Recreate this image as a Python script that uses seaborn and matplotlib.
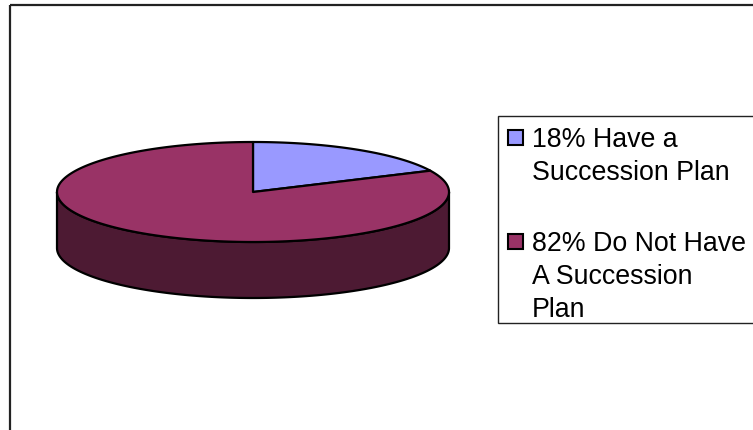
import numpy as np
import matplotlib
matplotlib.use('Agg')
import matplotlib.pyplot as plt
import matplotlib.colors as mcolors
import seaborn as sns
from matplotlib.patches import Polygon, Rectangle

# 数据
labels = ['18% Have a\nSuccession Plan', '82% Do Not Have\nA Succession\nPlan']
values = [18, 82]
colors = ['#9999FF', '#993366']

sns.set_style('white')
plt.rcParams['font.family'] = ['Liberation Sans', 'DejaVu Sans']

fig = plt.figure(figsize=(7.53, 4.31), dpi=100)
ax = fig.add_axes([0, 0, 1, 1])
ax.set_xlim(0, 753)
ax.set_ylim(431, 0)
ax.axis('off')

# 外框
ax.add_patch(Rectangle((10, 6), 800, 500, fill=False, edgecolor='#222222', lw=1.6))

# 饼图的位置与大小 (像素)
cx, cy, rx, ry, depth = 253, 193, 196, 50, 56


def arc(t1, t2, dy=0):
    t = np.radians(np.linspace(t1, t2, 300))
    return np.column_stack([cx + rx * np.cos(t), cy - ry * np.sin(t) + dy])


def darker(c, f=0.5):
    r, g, b = mcolors.to_rgb(c)
    return (r * f, g * f, b * f)


frac = np.array(values) / sum(values)
ends = 90 - 360 * np.cumsum(frac)
starts = np.r_[90, ends[:-1]]

# 侧面 (只画前半部分)
for s, e, c in zip(starts, ends, colors):
    for shift in (0, -360, 360):
        lo, hi = max(e + shift, -180), min(s + shift, 0)
        if lo < hi:
            pts = np.vstack([arc(lo, hi), arc(hi, lo, depth)])
            ax.add_patch(Polygon(pts, closed=True, facecolor=darker(c),
                                 edgecolor='black', lw=1.6, zorder=1))

# 顶面
for s, e, c in zip(starts, ends, colors):
    pts = np.vstack([[cx, cy], arc(s, e)])
    ax.add_patch(Polygon(pts, closed=True, facecolor=c,
                         edgecolor='black', lw=1.6, zorder=2, joinstyle='round'))

# 图例
ax.add_patch(Rectangle((498, 117), 300, 207, facecolor='white',
                       edgecolor='#222222', lw=1.0, zorder=3))
first_lines = [138, 242]
pitch = 33
for label, c, y0 in zip(labels, colors, first_lines):
    ax.add_patch(Rectangle((508, y0 - 7.5), 15, 15, facecolor=c,
                           edgecolor='black', lw=1.5, zorder=4))
    for j, line in enumerate(label.split('\n')):
        ax.text(532, y0 + j * pitch + 9, line, fontsize=19.3, va='baseline',
                ha='left', color='black', zorder=4)

fig.savefig('out.png', dpi=100)
